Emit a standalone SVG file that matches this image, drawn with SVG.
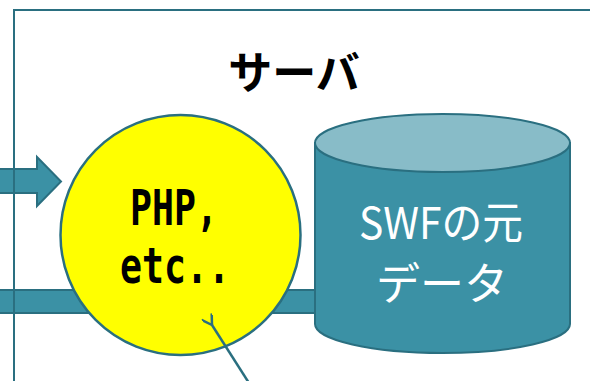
<svg xmlns="http://www.w3.org/2000/svg" width="590" height="381" viewBox="0 0 590 381">
<style>
.blk{fill:#3b91a5;stroke:#2a6f80;stroke-width:2}
.jp{font-family:"Noto Sans CJK JP","Liberation Sans",sans-serif}
.mono{font-family:"DejaVu Sans Mono","Liberation Mono",monospace}
</style>
<defs>
<marker id="open" markerWidth="12" markerHeight="12" refX="1" refY="6" orient="auto" markerUnits="userSpaceOnUse" viewBox="0 0 12 12"><path d="M11,0 L1,6 L11,12" fill="none" stroke="#2a6f80" stroke-width="2.5"/></marker>
</defs>
<rect width="590" height="381" fill="#ffffff"/>
<g id="connectors">
<path class="blk" d="M-2,169 H37 V157 L61,181.5 L37,206 V193 H-2 Z"/>
<rect class="blk" x="-2" y="290" width="330" height="23"/>
</g>
<g id="server">
<rect x="14" y="10" width="600" height="400" fill="none" stroke="#2a6f80" stroke-width="2"/>
<text class="jp" x="294" y="89" font-size="44" font-weight="bold" text-anchor="middle" fill="#000">サーバ</text>
</g>
<g id="php">
<circle cx="180.5" cy="235" r="120" fill="#ffff00" stroke="#2a6f80" stroke-width="2.5"/>
<text class="mono" x="130" y="225" font-size="50" font-weight="bold" textLength="88" lengthAdjust="spacingAndGlyphs" fill="#000">PHP,</text>
<text class="mono" x="120" y="283" font-size="50" font-weight="bold" textLength="110" lengthAdjust="spacingAndGlyphs" fill="#000">etc..</text>
</g>
<g id="swf">
<path class="blk" d="M315,143 V324 A127.5,29 0 0 0 570,324 V143 Z"/>
<ellipse cx="442.5" cy="143" rx="127.5" ry="29" fill="#88bcc8" stroke="#2a6f80" stroke-width="2"/>
<text class="jp" x="441" y="239" font-size="44" text-anchor="middle" textLength="164" lengthAdjust="spacingAndGlyphs" fill="#fff">SWFの元</text>
<text class="jp" x="442" y="300" font-size="44" text-anchor="middle" fill="#fff">データ</text>
</g>
<g id="pointer">
<line x1="249" y1="383" x2="212" y2="325" stroke="#2a6f80" stroke-width="2.5" marker-end="url(#open)"/>
</g>
</svg>
